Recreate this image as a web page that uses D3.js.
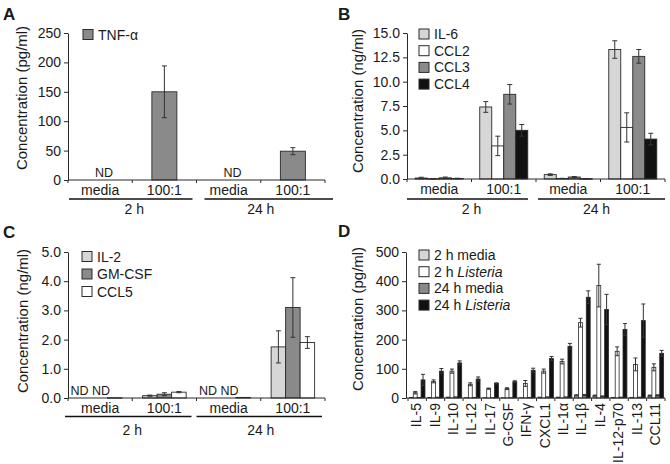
<!DOCTYPE html>
<html><head><meta charset="utf-8">
<script src="https://cdn.jsdelivr.net/npm/d3@7"></script>
<style>
body{margin:0;background:#fff}
text{font-family:"Liberation Sans",Arial,sans-serif;fill:#1a1a1a}
</style>
</head><body>
<svg id="chart" width="670" height="464"></svg>
<script>
// ---------- data ----------
const conditions = ["media", "100:1", "media", "100:1"];
const timepoints = ["2 h", "24 h"];

// Panel A
const aSeries = ["TNF-α"];
const tnfValues = [null, 150, null, 49];
const tnfErrors = [0, 44, 0, 6];
const aTicks = [0, 50, 100, 150, 200, 250];

// Panel B
const bSeries = ["IL-6", "CCL2", "CCL3", "CCL4"];
const il6Values = [0.10, 7.4, 0.45, 13.3];
const il6Errors = [0.08, 0.55, 0.08, 0.9];
const ccl2Values = [0.03, 3.4, 0.05, 5.3];
const ccl2Errors = [0.02, 1.0, 0.02, 1.5];
const ccl3Values = [0.12, 8.7, 0.2, 12.6];
const ccl3Errors = [0.08, 1.0, 0.05, 0.7];
const ccl4Values = [0.05, 5.0, 0.03, 4.1];
const ccl4Errors = [0.03, 0.6, 0.02, 0.6];
const bTicks = [0, 2.5, 5, 7.5, 10, 12.5, 15];

// Panel C
const cSeries = ["IL-2", "GM-CSF", "CCL5"];
const il2Values = [null, 0.08, null, 1.75];
const il2Errors = [0, 0.02, 0, 0.55];
const gmcsfValues = [null, 0.13, null, 3.1];
const gmcsfErrors = [0, 0.05, 0, 1.02];
const ccl5Values = [0.01, 0.2, 0.02, 1.9];
const ccl5Errors = [0, 0.02, 0, 0.2];
const cTicks = [0, 1, 2, 3, 4, 5];

// Panel D
const dCategories = ["IL-5", "IL-9", "IL-10", "IL-12", "IL-17", "G-CSF", "IFN-γ", "CXCL1", "IL-1α", "IL-1β", "IL-4", "IL-12-p70", "IL-13", "CCL11"];
const dSeries = ["2 h media", "2 h Listeria", "24 h media", "24 h Listeria"];
const media2hValues    = [2, 2, 3, 1, 1, 1, 1, 3, 3, 9, 8, 2, 2, 8];
const media2hErrors    = [0, 0, 0, 0, 0, 0, 0, 0, 0, 2, 2, 0, 0, 2];
const listeria2hValues = [18, 57, 92, 47, 32, 32, 50, 92, 125, 258, 385, 160, 115, 105];
const listeria2hErrors = [4, 5, 7, 5, 2, 3, 10, 7, 8, 15, 73, 15, 22, 12];
const media24hValues   = [2, 3, 4, 2, 1, 1, 2, 4, 4, 10, 6, 3, 3, 9];
const media24hErrors   = [0, 0, 0, 0, 0, 0, 0, 0, 0, 2, 1, 0, 0, 2];
const listeria24hValues = [62, 92, 120, 65, 50, 56, 95, 135, 177, 345, 303, 235, 265, 153];
const listeria24hErrors = [19, 9, 7, 7, 2, 3, 7, 7, 10, 22, 52, 20, 57, 10];
const dTicks = [0, 100, 200, 300, 400, 500];

// ---------- drawing ----------
const svg = d3.select("#chart");
const INK = "#2a2a2a";
const FILL = {light: "#d6d6d6", white: "#ffffff", mid: "#8a8a8a", black: "#111111"};

function yAxis(g, y, axisX, ticks, fmt) {
  const ax = d3.axisLeft(y).tickValues(ticks).tickFormat(fmt).tickSize(4).tickSizeOuter(0).tickPadding(3);
  const a = g.append("g").attr("transform", `translate(${axisX},0)`).call(ax);
  a.selectAll("path,line").attr("stroke", INK).attr("stroke-width", 1);
  a.selectAll("text").attr("font-size", 14).attr("font-family", '"Liberation Sans",Arial,sans-serif').attr("fill", "#1a1a1a");
}

function errBar(g, cx, y, v, e, cap) {
  if (!e) return;
  g.append("line").attr("x1", cx).attr("x2", cx).attr("y1", y(v - e)).attr("y2", y(v + e))
    .attr("stroke", "#333").attr("stroke-width", 1);
  [v - e, v + e].forEach(t => g.append("line").attr("x1", cx - cap / 2).attr("x2", cx + cap / 2)
    .attr("y1", y(t)).attr("y2", y(t)).attr("stroke", "#333").attr("stroke-width", 1));
}

function legend(g, items, x, y0, step, size) {
  items.forEach((it, i) => {
    const cy = y0 + i * step;
    g.append("rect").attr("x", x).attr("y", cy - size / 2).attr("width", size).attr("height", size)
      .attr("fill", it.color).attr("stroke", INK).attr("stroke-width", 1);
    const t = g.append("text").attr("x", x + size + 5).attr("y", cy).attr("dy", "0.36em").attr("font-size", 14);
    if (it.italic) {
      t.append("tspan").text(it.italic[0]);
      t.append("tspan").attr("font-style", "italic").text(it.italic[1]);
    } else t.text(it.label);
  });
}

function groupedPanel(cfg) {
  const g = svg.append("g");
  const x = d3.scaleBand().domain(d3.range(conditions.length)).range([cfg.x0, cfg.x1]);
  const y = d3.scaleLinear().domain([0, cfg.ymax]).range([cfg.yBase, cfg.yTop]);
  const sub = d3.scaleBand().domain(cfg.series.map(s => s.name)).range([-cfg.groupW / 2, cfg.groupW / 2]);

  // bars
  cfg.series.forEach(s => {
    s.values.forEach((v, i) => {
      const bx = x(i) + x.bandwidth() / 2 + sub(s.name);
      if (v === null) {
        g.append("text").attr("x", bx + sub.bandwidth() / 2 + (s.ndShift || 0)).attr("y", y(0) - 3)
          .attr("text-anchor", "middle").attr("font-size", 12.5).text("ND");
        return;
      }
      g.append("rect").attr("x", bx).attr("y", y(v)).attr("width", sub.bandwidth())
        .attr("height", Math.max(0.5, y(0) - y(v)))
        .attr("fill", s.color).attr("stroke", INK).attr("stroke-width", 0.9);
      errBar(g, bx + sub.bandwidth() / 2, y, v, s.errors[i], cfg.cap);
    });
  });

  yAxis(g, y, cfg.x0, cfg.ticks, cfg.fmt);
  // x axis
  g.append("line").attr("x1", cfg.x0).attr("x2", cfg.x1).attr("y1", y(0)).attr("y2", y(0)).attr("stroke", INK);
  d3.range(conditions.length + 1).forEach(i => {
    const bx = i < conditions.length ? x(i) : cfg.x1;
    g.append("line").attr("x1", bx).attr("x2", bx).attr("y1", y(0)).attr("y2", y(0) + 3).attr("stroke", INK);
  });
  conditions.forEach((c, i) => g.append("text").attr("x", x(i) + x.bandwidth() / 2).attr("y", cfg.catY)
    .attr("text-anchor", "middle").attr("font-size", 14).text(c));
  // group lines & labels
  timepoints.forEach((tp, j) => {
    const gx0 = x(j * 2), gx1 = j === 0 ? x(2) : cfg.x1;
    const l0 = gx0 + cfg.gl[j][0], l1 = gx1 + cfg.gl[j][1];
    g.append("line").attr("x1", l0).attr("x2", l1).attr("y1", cfg.lineY).attr("y2", cfg.lineY)
      .attr("stroke", "#111").attr("stroke-width", 1.3);
    g.append("text").attr("x", (gx0 + gx1) / 2 + cfg.glabShift[j]).attr("y", cfg.grpY)
      .attr("text-anchor", "middle").attr("font-size", 14).text(tp);
  });
  // axis title
  g.append("text").attr("transform", `translate(${cfg.titleX},${cfg.titleY}) rotate(-90)`)
    .attr("text-anchor", "middle").attr("dy", "0.35em").attr("font-size", 15).text(cfg.yTitle);
  // panel letter
  g.append("text").attr("x", cfg.letterX).attr("y", cfg.letterY).attr("font-size", 17)
    .attr("font-weight", "bold").text(cfg.letter);
  legend(g, cfg.series.map(s => ({label: s.name, color: s.color})), cfg.legX, cfg.legY, cfg.legStep, 10);
}

// Panel A
groupedPanel({
  letter: "A", letterX: 3, letterY: 20,
  x0: 68, x1: 325, yBase: 180, yTop: 33, ymax: 250, ticks: aTicks, fmt: d3.format("d"),
  groupW: 25, cap: 5,
  series: [{name: aSeries[0], values: tnfValues, errors: tnfErrors, color: FILL.mid, ndShift: 4}],
  catY: 195, lineY: 199, grpY: 214, gl: [[1, -4], [8, 8]], glabShift: [2, 0],
  titleX: 22, titleY: 98, yTitle: "Concentration (pg/ml)",
  legX: 83, legY: 34.5, legStep: 17
});

// Panel B
groupedPanel({
  letter: "B", letterX: 338, letterY: 20,
  x0: 407, x1: 665, yBase: 179, yTop: 33, ymax: 15, ticks: bTicks, fmt: d3.format(".1f"),
  groupW: 48, cap: 5,
  series: [
    {name: bSeries[0], values: il6Values, errors: il6Errors, color: FILL.light},
    {name: bSeries[1], values: ccl2Values, errors: ccl2Errors, color: FILL.white},
    {name: bSeries[2], values: ccl3Values, errors: ccl3Errors, color: FILL.mid},
    {name: bSeries[3], values: ccl4Values, errors: ccl4Errors, color: FILL.black}
  ],
  catY: 194, lineY: 199, grpY: 214, gl: [[0, -8], [2, 0]], glabShift: [0, -4],
  titleX: 358, titleY: 101, yTitle: "Concentration (ng/ml)",
  legX: 419, legY: 34, legStep: 16.7
});

// Panel C
groupedPanel({
  letter: "C", letterX: 3, letterY: 238,
  x0: 68, x1: 325, yBase: 398, yTop: 252, ymax: 5, ticks: cTicks, fmt: d3.format(".1f"),
  groupW: 43.5, cap: 5,
  series: [
    {name: cSeries[0], values: il2Values, errors: il2Errors, color: FILL.light, ndShift: -6},
    {name: cSeries[1], values: gmcsfValues, errors: gmcsfErrors, color: FILL.mid, ndShift: 1},
    {name: cSeries[2], values: ccl5Values, errors: ccl5Errors, color: FILL.white}
  ],
  catY: 413, lineY: 416.5, grpY: 435, gl: [[-3, -5], [0, -3]], glabShift: [0, 0],
  titleX: 23, titleY: 321, yTitle: "Concentration (ng/ml)",
  legX: 82, legY: 256.5, legStep: 17.5
});

// Panel D
(function () {
  const g = svg.append("g");
  const axisX = 406, x0 = 408, x1 = 665;
  const x = d3.scaleBand().domain(dCategories).range([x0, x1]);
  const y = d3.scaleLinear().domain([0, 500]).range([398, 252]);
  const sub = d3.scaleBand().domain(dSeries).range([-7.8, 7.8]);
  const series = [
    {name: dSeries[0], values: media2hValues, errors: media2hErrors, color: FILL.light},
    {name: dSeries[1], values: listeria2hValues, errors: listeria2hErrors, color: FILL.white},
    {name: dSeries[2], values: media24hValues, errors: media24hErrors, color: FILL.mid},
    {name: dSeries[3], values: listeria24hValues, errors: listeria24hErrors, color: FILL.black}
  ];
  series.forEach(s => s.values.forEach((v, i) => {
    const c = dCategories[i];
    const bx = x(c) + x.bandwidth() / 2 + sub(s.name);
    g.append("rect").attr("x", bx).attr("y", y(v)).attr("width", sub.bandwidth())
      .attr("height", y(0) - y(v)).attr("fill", s.color).attr("stroke", INK).attr("stroke-width", 0.8);
    errBar(g, bx + sub.bandwidth() / 2, y, v, s.errors[i], 4);
  }));
  yAxis(g, y, axisX, dTicks, d3.format("d"));
  g.append("line").attr("x1", axisX).attr("x2", x1).attr("y1", y(0)).attr("y2", y(0)).attr("stroke", INK);
  dCategories.forEach((c, i) => {
    g.append("line").attr("x1", x(c)).attr("x2", x(c)).attr("y1", y(0)).attr("y2", y(0) + 3).attr("stroke", INK);
    g.append("text").attr("transform", `translate(${x(c) + x.bandwidth() / 2 - 1},403) rotate(-90)`)
      .attr("text-anchor", "end").attr("dy", "0.36em").attr("font-size", 14).text(c);
  });
  g.append("line").attr("x1", x1).attr("x2", x1).attr("y1", y(0)).attr("y2", y(0) + 3).attr("stroke", INK);
  g.append("text").attr("transform", `translate(358,319) rotate(-90)`)
    .attr("text-anchor", "middle").attr("dy", "0.35em").attr("font-size", 15).text("Concentration (pg/ml)");
  g.append("text").attr("x", 338).attr("y", 237).attr("font-size", 17).attr("font-weight", "bold").text("D");
  legend(g, [
    {label: dSeries[0], color: FILL.light},
    {italic: ["2 h ", "Listeria"], color: FILL.white},
    {label: dSeries[2], color: FILL.mid},
    {italic: ["24 h ", "Listeria"], color: FILL.black}
  ], 419, 255, 16.7, 10);
})();
</script>
</body></html>
